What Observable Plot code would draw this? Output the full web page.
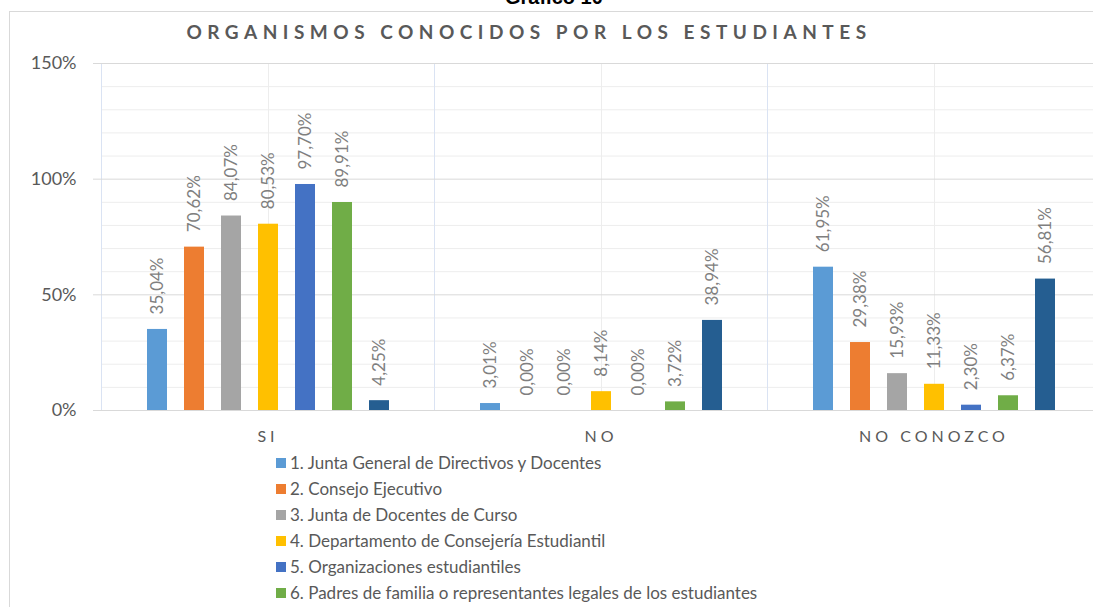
<!DOCTYPE html>
<html><head><meta charset="utf-8">
<script src="https://cdn.jsdelivr.net/npm/d3@7"></script>
<script src="https://cdn.jsdelivr.net/npm/@observablehq/plot@0.6"></script>
<style>
html,body{margin:0;padding:0;overflow:hidden;background:#fff;}
#wrap{position:relative;width:1093px;height:607px;overflow:hidden;font-family:Lato,sans-serif;background:#fff;}
#box{position:absolute;left:9px;top:11px;width:1300px;height:800px;border:1px solid #d9d9d9;}
#fig{position:absolute;left:505px;top:-13px;font:bold 20px "Liberation Sans",Arial,sans-serif;color:#000;white-space:nowrap;line-height:20px;}
#title{position:absolute;left:0;width:1058px;top:22px;text-align:center;font:bold 19px Lato,sans-serif;letter-spacing:5.5px;color:#595959;line-height:19px;white-space:nowrap;}
#chart{position:absolute;left:0;top:0;}
#legend{position:absolute;left:276px;top:450px;font:17px Lato,sans-serif;color:#595959;}
#legend .item{height:26px;line-height:26px;white-space:nowrap;display:flex;align-items:center;}
#legend .sw{width:10px;height:10px;margin-right:4px;flex:none;}
</style></head>
<body>
<div id="wrap">
  <div id="box"></div>
  <div id="fig">Gráfico 10</div>
  <div id="title">ORGANISMOS CONOCIDOS POR LOS ESTUDIANTES</div>
  <div id="chart"></div>
  <div id="legend"></div>
</div>
<script>
const categories = ["SI", "NO", "NO CONOZCO"];
const seriesKeys = ["1", "2", "3", "4", "5", "6", "7"];
const legendNames = [
  "1. Junta General de Directivos y Docentes",
  "2. Consejo Ejecutivo",
  "3. Junta de Docentes de Curso",
  "4. Departamento de Consejería Estudiantil",
  "5. Organizaciones estudiantiles",
  "6. Padres de familia o representantes legales de los estudiantes"
];
const colors = ["#5b9bd5", "#ed7d31", "#a5a5a5", "#ffc000", "#4472c4", "#70ad47", "#255e91"];
const valuesSI = [35.04, 70.62, 84.07, 80.53, 97.70, 89.91, 4.25];
const valuesNO = [3.01, 0.00, 0.00, 8.14, 0.00, 3.72, 38.94];
const valuesNoConozco = [61.95, 29.38, 15.93, 11.33, 2.30, 6.37, 56.81];
const yTicks = [0, 50, 100, 150];
const yMinorTicks = [10, 20, 30, 40, 60, 70, 80, 90, 110, 120, 130, 140];

const valueSets = [valuesSI, valuesNO, valuesNoConozco];
const data = categories.flatMap((c, ci) => seriesKeys.map((s, si) => ({cat: c, series: s, value: valueSets[ci][si]})));
const fmt = d => d.value.toFixed(2).replace(".", ",") + "%";

const chart = Plot.plot({
  width: 1110, height: 460,
  marginLeft: 101, marginRight: 10, marginTop: 63, marginBottom: 50,
  style: {fontFamily: "Lato, sans-serif", fontSize: "17px", color: "#595959", background: "transparent", overflow: "visible", maxWidth: "none"},
  fx: {domain: categories, padding: 0, label: null},
  x: {domain: seriesKeys, paddingInner: 0.47, paddingOuter: 1.15, axis: null},
  y: {domain: [0, 150], label: null},
  color: {domain: seriesKeys, range: colors},
  marks: [
    Plot.ruleY(yMinorTicks, {stroke: "#ededed"}),
    Plot.ruleX([seriesKeys[3]], {stroke: "#ededed"}),
    Plot.frame({anchor: "left", stroke: "#dae3f3"}),
    Plot.ruleY(yTicks, {stroke: "#d9d9d9"}),
    Plot.axisY({ticks: yTicks, tickSize: 8, tickPadding: 17, stroke: "#d9d9d9", tickFormat: d => d + "%", fontSize: 18, fill: "#595959"}),
    Plot.axisFx({anchor: "bottom", tickSize: 0, tickPadding: 20, fontSize: 16, fill: "#595959", label: null}),
    Plot.barY(data, {fx: "cat", x: "series", y: "value", fill: "series"}),
    Plot.text(data, {fx: "cat", x: "series", y: "value", text: fmt, rotate: -90, textAnchor: "start", dy: -15, fill: "#7f7f7f", fontSize: 17})
  ]
});
chart.style.maxWidth = "none";
document.getElementById("chart").appendChild(chart);
d3.select(chart).selectAll('g[aria-label="fx-axis tick label"] text').style("letter-spacing", "4px");

const legend = d3.select("#legend");
legendNames.forEach((name, i) => {
  const it = legend.append("div").attr("class", "item");
  it.append("div").attr("class", "sw").style("background", colors[i]);
  it.append("span").text(name);
});
</script>
</body></html>
